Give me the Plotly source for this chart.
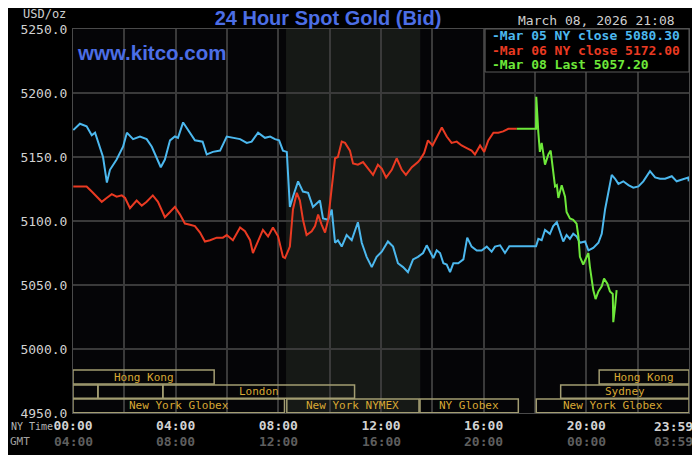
import plotly.graph_objects as go

# ======================
# Données (heures NY, cours USD/oz)
# ======================
mar05_t = [0.01, 0.27, 0.53, 0.73, 0.86, 0.99, 1.17, 1.32, 1.44, 1.70, 1.95, 2.10, 2.34, 2.61,
           2.87, 3.07, 3.26, 3.42, 3.58, 3.78, 3.97, 4.09, 4.29, 4.48, 4.75, 5.05, 5.21, 5.45,
           5.73, 5.99, 6.23, 6.51, 6.77, 6.96, 7.21, 7.48, 7.68, 7.87, 8.03, 8.18, 8.33, 8.45,
           8.57, 8.77, 8.96, 9.16, 9.35, 9.62, 9.74, 9.94, 10.08, 10.21, 10.32, 10.47, 10.66,
           10.86, 11.10, 11.25, 11.44, 11.64, 11.83, 12.03, 12.27, 12.47, 12.66, 12.86, 13.05,
           13.25, 13.44, 13.64, 13.78, 13.91, 14.04, 14.17, 14.30, 14.43, 14.56, 14.69, 14.82,
           15.01, 15.21, 15.36, 15.53, 15.73, 15.92, 16.12, 16.31, 16.44, 16.64, 16.83, 17.00,
           18.04, 18.13, 18.26, 18.39, 18.58, 18.71, 18.85, 18.97, 19.10, 19.23, 19.36, 19.49,
           19.62, 19.75, 19.95, 20.08, 20.27, 20.47, 20.60, 20.73, 20.86, 20.99, 21.12, 21.25,
           21.44, 21.64, 21.83, 22.03, 22.22, 22.48, 22.68, 22.87, 23.07, 23.33, 23.52, 23.78,
           23.97, 23.99]
mar05_v = [5171, 5176, 5174, 5167, 5169, 5161, 5150, 5130, 5140, 5148, 5158, 5169, 5164, 5166,
           5164, 5158, 5149, 5142, 5148, 5163, 5166, 5165, 5177, 5171, 5163, 5162, 5152, 5154,
           5155, 5166, 5165, 5164, 5161, 5162, 5169, 5165, 5166, 5164, 5163, 5155, 5154, 5111,
           5119, 5131, 5123, 5122, 5111, 5116, 5102, 5101, 5109, 5083, 5085, 5080, 5089,
           5085, 5099, 5083, 5072, 5064, 5072, 5076, 5084, 5080, 5067, 5064, 5060,
           5070, 5072, 5075, 5081, 5076, 5071, 5077, 5075, 5067, 5066, 5060, 5067,
           5067, 5070, 5087, 5080, 5077, 5077, 5080, 5076, 5080, 5081, 5075, 5080.3,
           5080.3, 5086, 5085, 5093, 5090, 5096, 5099, 5092, 5084, 5089, 5086, 5090,
           5088, 5083, 5084, 5077, 5079, 5083, 5090, 5109, 5122, 5136, 5133, 5129,
           5131, 5128, 5126, 5127, 5131, 5139, 5134, 5133, 5133, 5135, 5131, 5133,
           5134, 5131]

mar06_t = [0.01, 0.27, 0.53, 0.73, 0.92, 1.12, 1.31, 1.51, 1.70, 1.90, 2.03, 2.22, 2.48, 2.68,
           2.87, 3.11, 3.31, 3.58, 3.78, 3.97, 4.17, 4.36, 4.56, 4.75, 4.95, 5.14, 5.34, 5.60,
           5.84, 5.99, 6.23, 6.51, 6.70, 6.90, 7.01, 7.21, 7.40, 7.60, 7.79, 7.99, 8.18, 8.26,
           8.45, 8.57, 8.72, 8.84, 8.96, 9.10, 9.30, 9.43, 9.55, 9.69, 9.82, 9.94, 10.08, 10.21,
           10.32, 10.47, 10.60, 10.79, 10.91, 11.10, 11.30, 11.49, 11.69, 11.88, 12.03, 12.20,
           12.42, 12.61, 12.81, 12.97, 13.20, 13.44, 13.52, 13.68, 13.83, 14.01, 14.17, 14.37,
           14.56, 14.75, 14.95, 15.14, 15.34, 15.53, 15.66, 15.86, 16.02, 16.18, 16.38, 16.57,
           16.76, 16.96, 17.29]
mar06_v = [5127, 5127, 5127, 5123, 5119, 5115, 5118, 5121, 5119, 5120, 5118, 5110, 5116, 5112,
           5115, 5120, 5115, 5103, 5107, 5111, 5105, 5098, 5097, 5096, 5091, 5084, 5085, 5087,
           5087, 5089, 5085, 5095, 5092, 5085, 5075, 5085, 5093, 5088, 5095, 5088, 5072, 5071,
           5080, 5109, 5122, 5116, 5101, 5089, 5092, 5096, 5105, 5097, 5091, 5101, 5127, 5149,
           5150, 5162, 5161, 5155, 5145, 5144, 5146, 5141, 5136, 5144, 5141, 5134,
           5140, 5149, 5140, 5136, 5142, 5146, 5148, 5153, 5163, 5159, 5165, 5173,
           5166, 5161, 5162, 5159, 5157, 5155, 5152, 5159, 5154, 5163, 5169, 5169,
           5170, 5172, 5172]

mar08_t = [17.29, 18.04, 18.05, 18.09, 18.13, 18.19, 18.26, 18.39, 18.52, 18.61, 18.71, 18.78,
           18.85, 18.91, 19.04, 19.17, 19.23, 19.36, 19.49, 19.62, 19.69, 19.75, 19.88, 20.01,
           20.08, 20.14, 20.27, 20.36, 20.47, 20.60, 20.69, 20.82, 20.92, 21.03, 21.05, 21.12,
           21.18]
mar08_v = [5172, 5172, 5197, 5181, 5169, 5154, 5161, 5144, 5152, 5155, 5140, 5127,
           5128, 5118, 5128, 5119, 5107, 5102, 5101, 5098, 5088, 5072, 5066, 5072,
           5075, 5064, 5046, 5039, 5045, 5049, 5055, 5051, 5045, 5043, 5021, 5033,
           5046]

series_names = ["Mar 05 NY close", "Mar 06 NY close", "Mar 08 Last"]
series_last = [5080.30, 5172.00, 5057.20]
series_colors = ["#4cb8ee", "#ea3a22", "#6ee83a"]

tick_hours = [0, 4, 8, 12, 16, 20]
ny_labels = ["00:00", "04:00", "08:00", "12:00", "16:00", "20:00", "23:59"]
gmt_labels = ["04:00", "08:00", "12:00", "16:00", "20:00", "00:00", "03:59"]

# Sessions : (nom, début, fin, rangée)
session_names = ["Hong Kong", "", "", "London", "New York Globex", "New York NYMEX",
                 "NY Globex", "New York Globex", "Sydney", "Hong Kong"]
session_start = [0, 0, 0.97, 3.5, 0, 8.33, 13.52, 18.05, 19.0, 20.5]
session_end = [5.5, 0.97, 3.5, 10.97, 8.24, 13.48, 17.35, 24, 24, 24]
session_row = [1, 2, 2, 2, 3, 3, 3, 3, 2, 1]
nymex_shade = [8.3, 13.53]

MONO = "DejaVu Sans Mono"
row_bounds = {1: (4972.6, 4983.6), 2: (4961.6, 4971.9), 3: (4950.2, 4960.9)}

fig = go.Figure()

for t, v, name, col in zip([mar05_t, mar06_t, mar08_t], [mar05_v, mar06_v, mar08_v],
                           series_names, series_colors):
    fig.add_trace(go.Scatter(x=t, y=v, mode="lines", name=name,
                             line=dict(color=col, width=2), showlegend=False))

# === Zone NYMEX ombrée ===
fig.add_vrect(x0=nymex_shade[0], x1=nymex_shade[1], fillcolor="#161916", opacity=1,
              line_width=0, layer="below")

# === Sessions ===
for name, s0, s1, row in zip(session_names, session_start, session_end, session_row):
    y0, y1 = row_bounds[row]
    fig.add_shape(type="rect", xref="x", yref="y", x0=s0, x1=s1, y0=y0, y1=y1,
                  line=dict(color="#a39d72", width=1.5), fillcolor="rgba(0,0,0,0)")
    if name:
        fig.add_annotation(x=(s0 + s1) / 2, y=(y0 + y1) / 2, xref="x", yref="y",
                           text=name, showarrow=False,
                           font=dict(family=MONO, size=11, color="#d8a834"))

# === Légende (boîte) ===
fig.add_shape(type="rect", xref="paper", yref="paper", x0=0.669, x1=1.0, y0=0.888, y1=1.0,
              line=dict(color="#5a5a5a", width=1), fillcolor="#000000")
for i, (name, last, col) in enumerate(zip(series_names, series_last, series_colors)):
    fig.add_annotation(x=0.677, y=0.982 - i * 0.037, xref="paper", yref="paper",
                       xanchor="left", yanchor="middle", showarrow=False,
                       text=f"<b>-{name} {last:.2f}</b>",
                       font=dict(family=MONO, size=13, color=col))

# === Textes ===
fig.add_annotation(x=0.004, y=0.940, xref="paper", yref="paper", xanchor="left",
                   yanchor="middle", showarrow=False, text="<b>www.kitco.com</b>",
                   font=dict(family="Liberation Sans", size=20.5, color="#4c6ee6"))
fig.add_annotation(x=0.9805, y=1.0234, xref="paper", yref="paper", xanchor="right",
                   yanchor="middle", showarrow=False, text="March 08, 2026 21:08",
                   font=dict(family=MONO, size=13, color="#cfcfcf"))
fig.add_annotation(x=-0.008, y=1.0385, xref="paper", yref="paper", xanchor="right",
                   yanchor="middle", showarrow=False, text="USD/oz",
                   font=dict(family=MONO, size=12, color="#cfcfcf"))
fig.add_annotation(x=-0.1035, y=-0.036, xref="paper", yref="paper", xanchor="left",
                   yanchor="middle", showarrow=False, text="NY Time",
                   font=dict(family=MONO, size=10, color="#b4b4b4"))
fig.add_annotation(x=-0.067, y=-0.073, xref="paper", yref="paper", xanchor="right",
                   yanchor="middle", showarrow=False, text="GMT",
                   font=dict(family=MONO, size=11, color="#a0a0a0"))

# GMT sous les heures NY
for h, g in zip(tick_hours + [24], gmt_labels):
    fig.add_annotation(x=h, y=-0.073, xref="x", yref="paper", yanchor="middle",
                       xanchor="right" if h == 24 else "center", xshift=6 if h == 24 else 0,
                       showarrow=False, text=f"<b>{g}</b>",
                       font=dict(family=MONO, size=13, color="#5e5e5e"))
fig.add_annotation(x=24, y=-0.036, xref="x", yref="paper", yanchor="middle",
                   xanchor="right", xshift=6, showarrow=False, text=f"<b>{ny_labels[-1]}</b>",
                   font=dict(family=MONO, size=13, color="#d2d2d2"))

grid_hours = list(range(0, 24, 2))
# la page est décalée de 8 px : figure réduite d'autant
fig.update_layout(
    width=692,
    height=447,
    paper_bgcolor="#000000",
    plot_bgcolor="#050507",
    margin=dict(l=65, r=11, t=21, b=42),
    title=dict(text="<b>24 Hour Spot Gold (Bid)</b>", x=0.4624, xanchor="center", y=0.978,
               yanchor="middle", font=dict(family="Liberation Sans", size=20, color="#4c6ee6")),
    xaxis=dict(
        range=[0, 24],
        tickmode="array",
        tickvals=grid_hours,
        ticktext=[f"<b>{ny_labels[tick_hours.index(h)]}</b>" if h in tick_hours else ""
                  for h in grid_hours],
        tickfont=dict(family=MONO, size=13, color="#d2d2d2"),
        showgrid=True, gridcolor="#3a3a3a", gridwidth=1.5,
        showline=True, linecolor="#4a4a4a", mirror=True,
        zeroline=False, ticks="",
    ),
    yaxis=dict(
        range=[4950, 5250],
        dtick=50,
        tickformat=".1f",
        tickfont=dict(family=MONO, size=13, color="#d2d2d2"),
        ticklabelstandoff=2,
        showgrid=True, gridcolor="#3a3a3a", gridwidth=1.5,
        showline=True, linecolor="#4a4a4a", mirror=True,
        zeroline=False, ticks="",
    ),
)

fig.write_html("out.html")
